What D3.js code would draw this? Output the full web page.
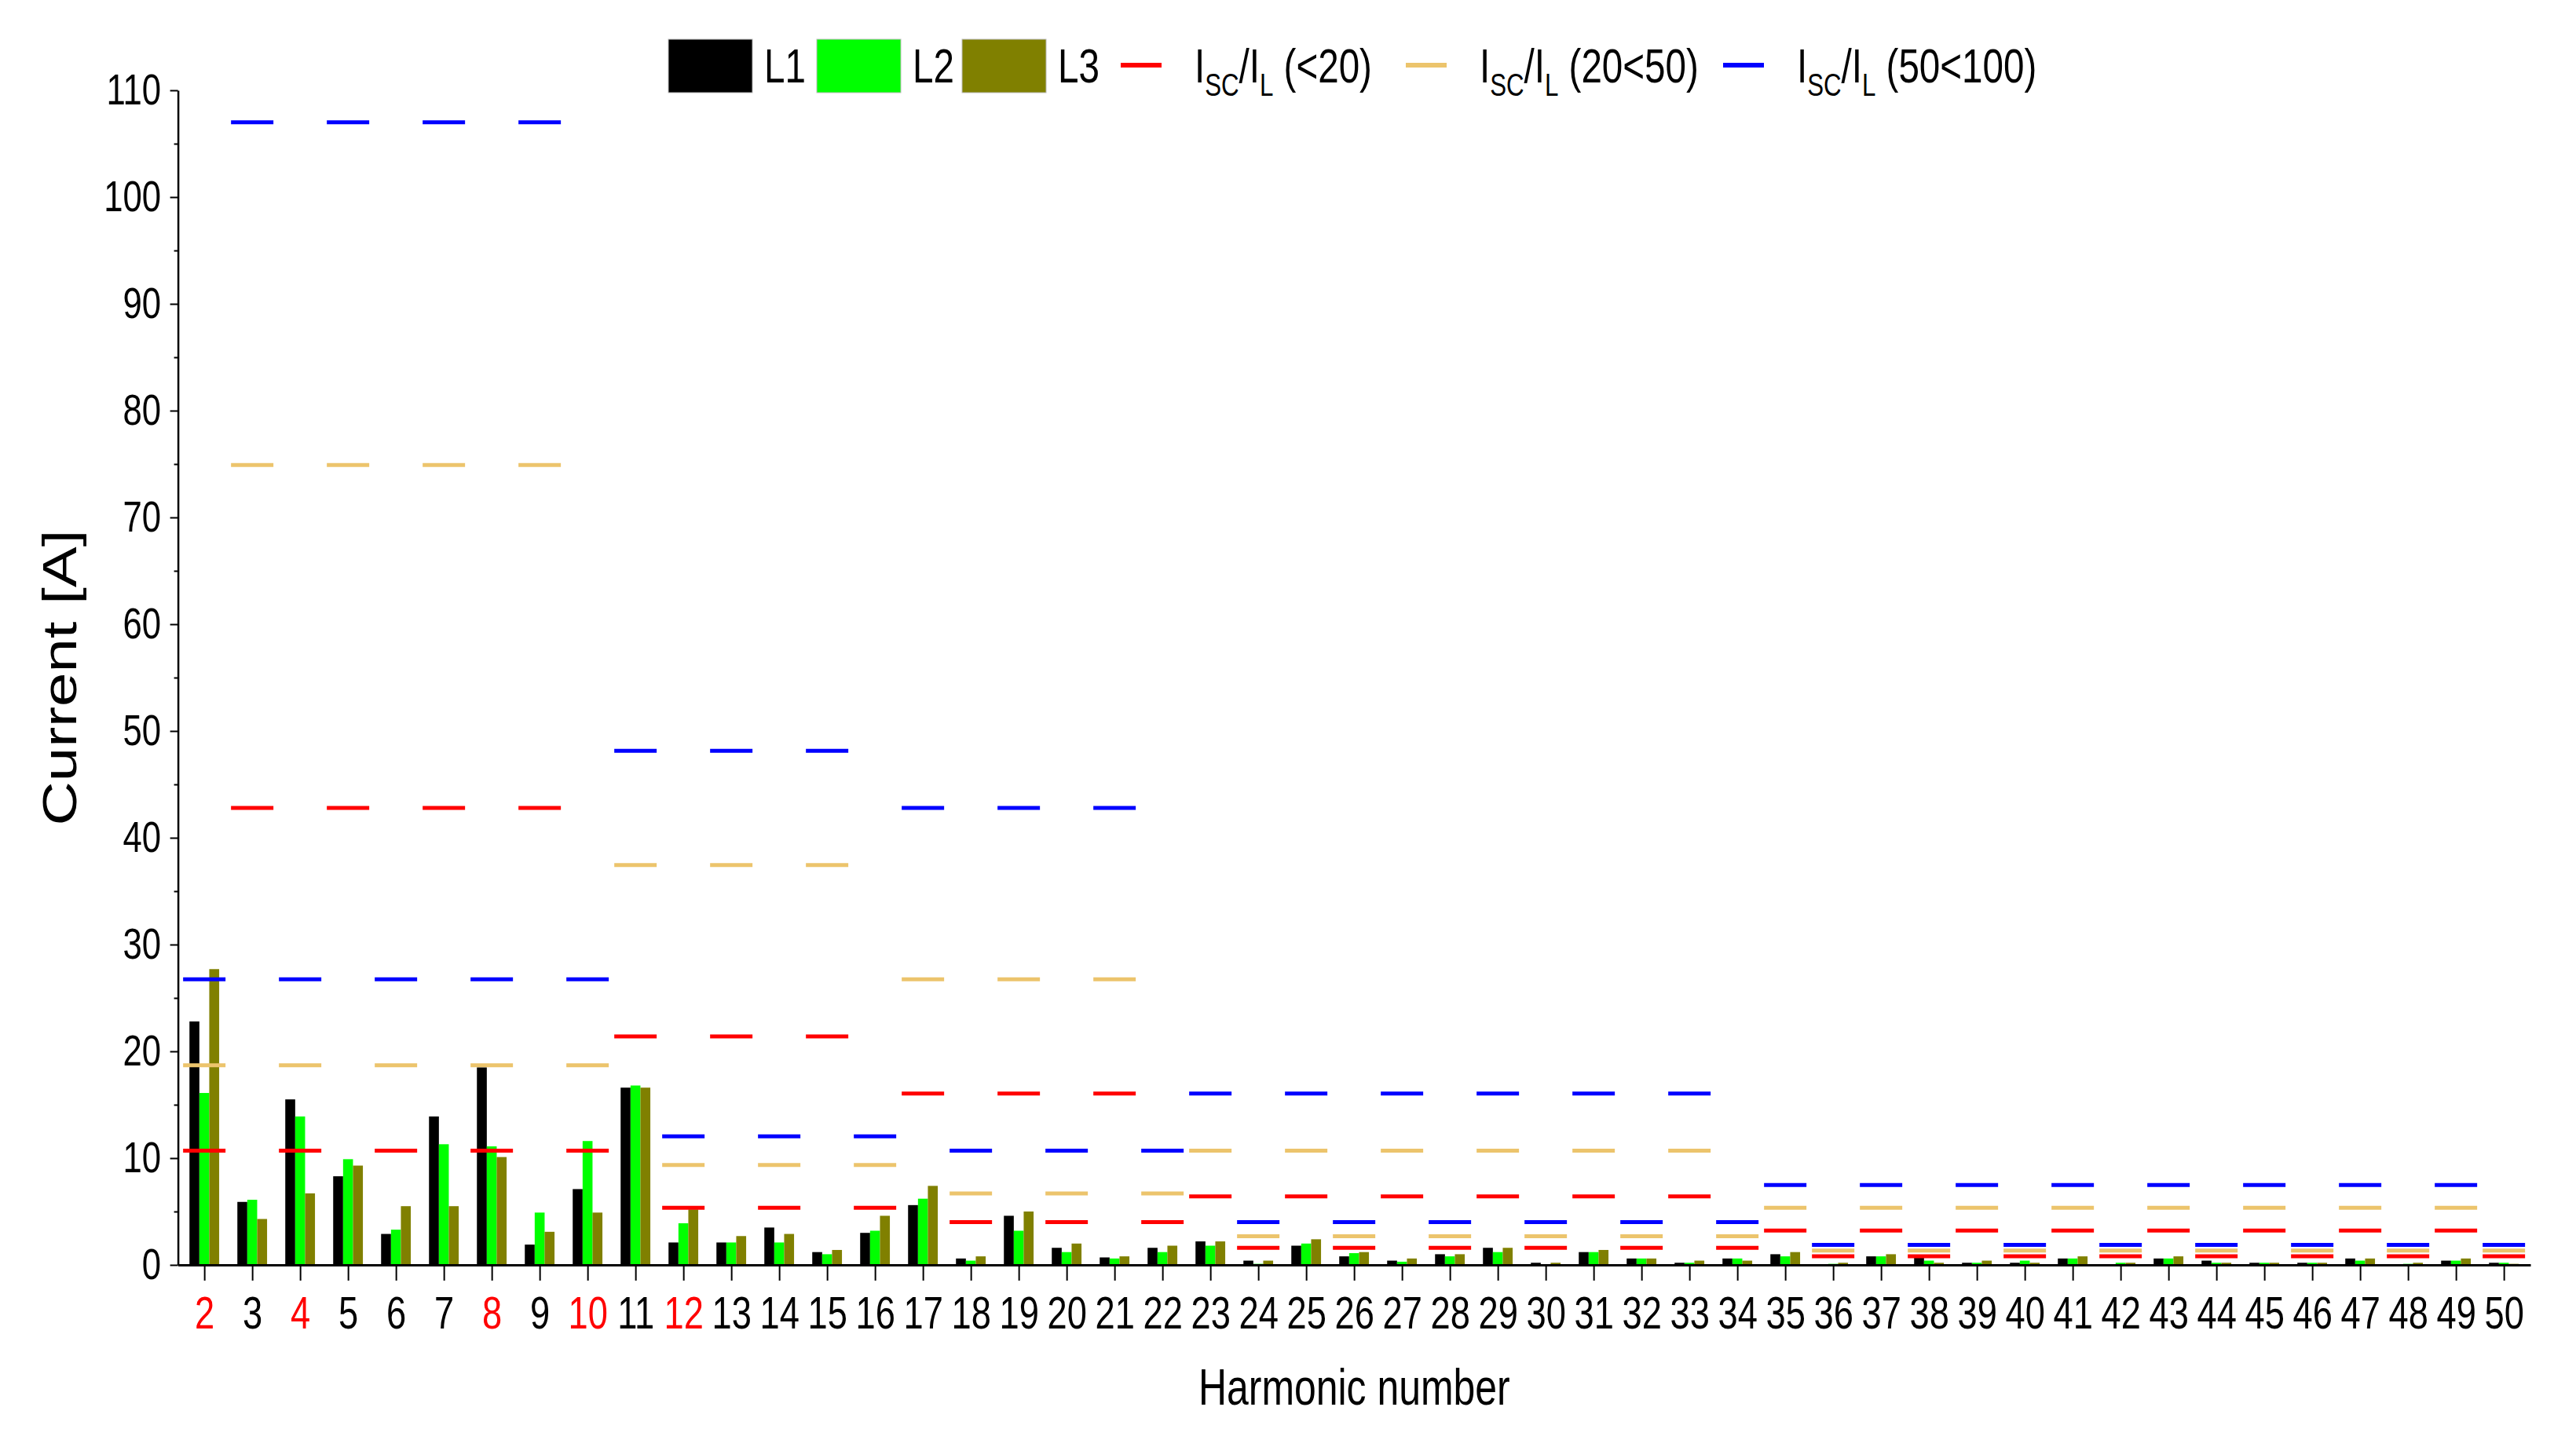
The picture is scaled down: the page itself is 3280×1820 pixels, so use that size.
<!DOCTYPE html>
<html><head><meta charset="utf-8">
<script src="https://cdn.jsdelivr.net/npm/d3@7"></script>
<style>
body{margin:0;background:#fff}
svg{display:block}
text{font-family:"Liberation Sans",Arial,Helvetica,sans-serif}
</style>
</head><body>
<svg id="chart" width="3280" height="1820"></svg>
<script>
// ---------- DATA ----------
const harmonics = [2,3,4,5,6,7,8,9,10,11,12,13,14,15,16,17,18,19,20,21,22,23,24,25,26,27,28,29,30,31,32,33,34,35,36,37,38,39,40,41,42,43,44,45,46,47,48,49,50];
const seriesNames = ["L1","L2","L3"];
const L1 = [22.8,5.9,15.5,8.3,2.9,13.9,18.5,1.9,7.1,16.6,2.1,2.1,3.5,1.2,3.0,5.6,0.6,4.6,1.6,0.7,1.6,2.2,0.4,1.8,0.8,0.4,1.0,1.6,0.2,1.2,0.6,0.2,0.6,1.0,0.05,0.8,0.7,0.2,0.2,0.6,0,0.6,0.4,0.2,0.2,0.6,0,0.4,0.2];
const L2 = [16.1,6.1,13.9,9.9,3.3,11.3,11.1,4.9,11.6,16.8,3.9,2.1,2.1,1.0,3.2,6.2,0.4,3.2,1.2,0.6,1.2,1.8,0.1,2.0,1.1,0.3,0.8,1.2,0.05,1.2,0.6,0.2,0.6,0.8,0.1,0.8,0.4,0.2,0.4,0.6,0.2,0.6,0.2,0.2,0.2,0.4,0.1,0.4,0.2];
const L3 = [27.7,4.3,6.7,9.3,5.5,5.5,10.1,3.1,4.9,16.6,5.2,2.7,2.9,1.4,4.6,7.4,0.8,5.0,2.0,0.8,1.8,2.2,0.4,2.4,1.2,0.6,1.0,1.6,0.2,1.4,0.6,0.4,0.4,1.2,0.2,1.0,0.2,0.4,0.2,0.8,0.2,0.8,0.2,0.2,0.2,0.6,0.2,0.6,0.1];

const limitNames = ["(<20)","(20<50)","(50<100)"];
const limitLT20 = [10.7,42.8,10.7,42.8,10.7,42.8,10.7,42.8,10.7,
  21.4,5.35,21.4,5.35,21.4,5.35,
  16.05,4.01,16.05,4.01,16.05,4.01,
  6.42,1.6,6.42,1.6,6.42,1.6,6.42,1.6,6.42,1.6,6.42,1.6,
  3.21,0.8,3.21,0.8,3.21,0.8,3.21,0.8,3.21,0.8,3.21,0.8,3.21,0.8,3.21,0.8];
const limit20to50 = [18.7,74.9,18.7,74.9,18.7,74.9,18.7,74.9,18.7,
  37.45,9.36,37.45,9.36,37.45,9.36,
  26.75,6.69,26.75,6.69,26.75,6.69,
  10.7,2.68,10.7,2.68,10.7,2.68,10.7,2.68,10.7,2.68,10.7,2.68,
  5.35,1.34,5.35,1.34,5.35,1.34,5.35,1.34,5.35,1.34,5.35,1.34,5.35,1.34,5.35,1.34];
const limit50to100 = [26.75,107,26.75,107,26.75,107,26.75,107,26.75,
  48.15,12.04,48.15,12.04,48.15,12.04,
  42.8,10.7,42.8,10.7,42.8,10.7,
  16.05,4.01,16.05,4.01,16.05,4.01,16.05,4.01,16.05,4.01,16.05,4.01,
  7.49,1.87,7.49,1.87,7.49,1.87,7.49,1.87,7.49,1.87,7.49,1.87,7.49,1.87,7.49,1.87];

const yTicks = [0,10,20,30,40,50,60,70,80,90,100,110];
const yMinorTicks = [5,15,25,35,45,55,65,75,85,95,105];
const redTickLabels = [2,4,8,10,12];
const xTitle = "Harmonic number";
const yTitle = "Current [A]";

// ---------- STYLE ----------
const barColors = ["#000000","#00ff00","#808000"];
const limitColors = ["#ff0000","#ecc46c","#0000ff"];
const SX = 0.78; // horizontal condensation of text

// ---------- SCALES ----------
const svg = d3.select("#chart");
const x = d3.scaleLinear().domain([1.45, 50.555]).range([226.6, 3222]);
const y = d3.scaleLinear().domain([0, 110]).range([1611, 115]);
const step = x(3) - x(2);
const barW = step * 0.2067;
const dashHalf = step * 0.4425;

const series = [L1, L2, L3];
const limits = [limitLT20, limit20to50, limit50to100];

// ---------- BARS ----------
const gBars = svg.append("g");
series.forEach((vals, si) => {
  gBars.selectAll(null).data(harmonics.map((h,i)=>({h, v: vals[i]})))
    .join("rect")
    .attr("x", d => x(d.h) + (si - 1.5) * barW)
    .attr("width", barW)
    .attr("y", d => y(d.v))
    .attr("height", d => y(0) - y(d.v))
    .attr("fill", barColors[si]);
});

// ---------- LIMIT DASHES ----------
const gLim = svg.append("g");
limits.forEach((vals, li) => {
  gLim.selectAll(null).data(harmonics.map((h,i)=>({h, v: vals[i]})))
    .join("line")
    .attr("x1", d => x(d.h) - dashHalf)
    .attr("x2", d => x(d.h) + dashHalf)
    .attr("y1", d => y(d.v))
    .attr("y2", d => y(d.v))
    .attr("stroke", limitColors[li])
    .attr("stroke-width", 5);
});

// ---------- AXES ----------
const yAxisG = svg.append("g").attr("transform", `translate(${x.range()[0]},0)`)
  .call(d3.axisLeft(y).tickValues(yTicks).tickSize(10).tickSizeOuter(0));
yAxisG.select(".domain").attr("stroke", "#000").attr("stroke-width", 2.5);
yAxisG.selectAll(".tick line").attr("stroke", "#000").attr("stroke-width", 2);
yAxisG.selectAll(".tick text")
  .attr("x", -21.6 / SX)
  .attr("transform", `scale(${SX},1)`)
  .attr("font-size", 56)
  .style("fill", "#000")
  .style("font-family", '"Liberation Sans",Arial,sans-serif');

const yMinorG = svg.append("g").attr("transform", `translate(${x.range()[0]},0)`)
  .call(d3.axisLeft(y).tickValues(yMinorTicks).tickSize(5).tickFormat(""));
yMinorG.select(".domain").remove();
yMinorG.selectAll(".tick line").attr("stroke", "#000").attr("stroke-width", 2);

const xAxisG = svg.append("g").attr("transform", `translate(0,${y(0)})`)
  .call(d3.axisBottom(x).tickValues(harmonics).tickSize(20).tickSizeOuter(0).tickFormat(d3.format("d")));
xAxisG.select(".domain").attr("stroke", "#000").attr("stroke-width", 3);
xAxisG.selectAll(".tick line").attr("stroke", "#000").attr("stroke-width", 2);
xAxisG.selectAll(".tick text")
  .attr("y", 81).attr("dy", 0)
  .attr("transform", `scale(${SX},1)`)
  .attr("font-size", 58)
  .style("fill", d => redTickLabels.includes(d) ? "#ff0000" : "#000000")
  .style("font-family", '"Liberation Sans",Arial,sans-serif');

// ---------- TITLES ----------
svg.append("text")
  .attr("transform", `translate(${(x.range()[0]+x.range()[1])/2},1789) scale(${SX},1)`)
  .attr("text-anchor", "middle").attr("font-size", 64).attr("fill", "#000").text(xTitle);
svg.append("text")
  .attr("transform", `translate(97,${(y.range()[0]+y.range()[1])/2}) scale(${SX},1) rotate(-90)`)
  .attr("text-anchor", "middle").attr("font-size", 78).attr("fill", "#000").text(yTitle);

// ---------- LEGEND ----------
const leg = svg.append("g");
const boxX = [851, 1040, 1225];
seriesNames.forEach((name, i) => {
  leg.append("rect").attr("x", boxX[i]).attr("y", 50).attr("width", 107).attr("height", 68)
    .attr("fill", barColors[i]).attr("stroke", "#bbb").attr("stroke-width", 1);
  leg.append("text").attr("transform", `translate(${boxX[i] + 122},105) scale(${SX},1)`)
    .attr("font-size", 61).attr("fill", "#000").text(name);
});
const lineX = [1427, 1790, 2194];
limitNames.forEach((name, i) => {
  leg.append("line").attr("x1", lineX[i]).attr("x2", lineX[i] + 52).attr("y1", 83).attr("y2", 83)
    .attr("stroke", limitColors[i]).attr("stroke-width", 6);
  const t = leg.append("text").attr("transform", `translate(${lineX[i] + 94},105) scale(${SX},1)`)
    .attr("font-size", 61).attr("fill", "#000");
  t.append("tspan").text("I");
  t.append("tspan").attr("font-size", 40).attr("dy", 17).text("SC");
  t.append("tspan").attr("dy", -17).text("/I");
  t.append("tspan").attr("font-size", 40).attr("dy", 17).text("L");
  t.append("tspan").attr("dy", -17).text("\u00a0" + name);
});
</script>
</body></html>
